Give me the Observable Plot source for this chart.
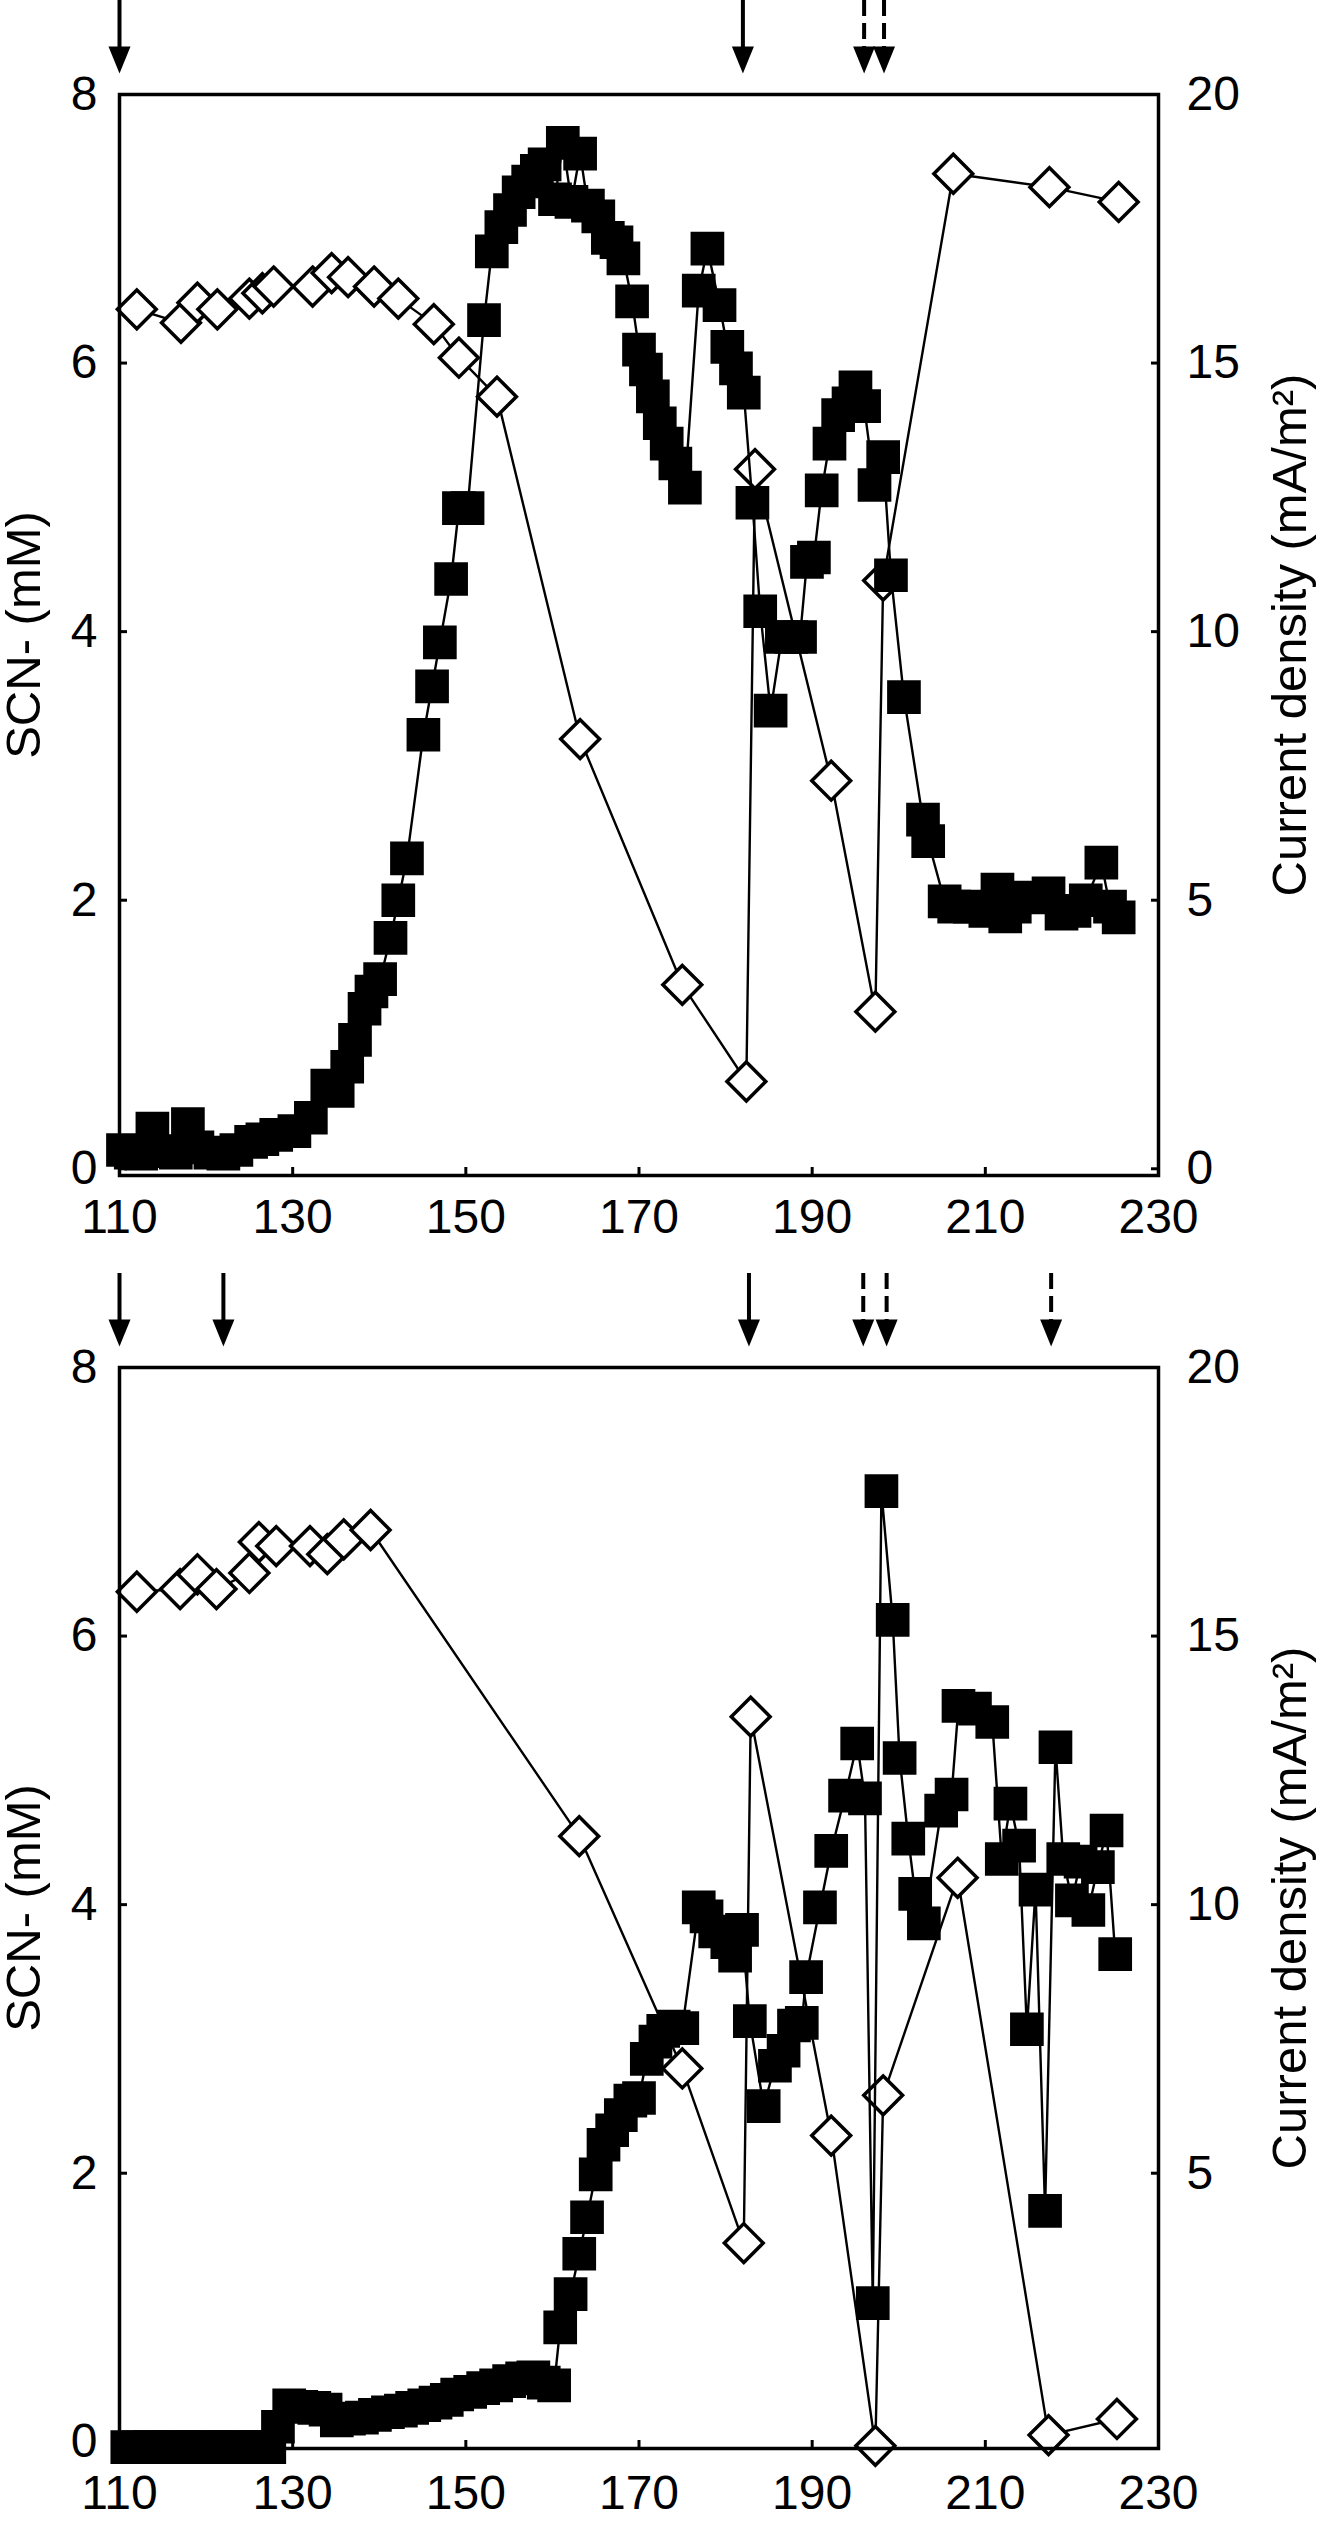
<!DOCTYPE html>
<html>
<head>
<meta charset="utf-8">
<script src="https://cdn.jsdelivr.net/npm/d3@7"></script>
<script src="https://cdn.jsdelivr.net/npm/@observablehq/plot@0.6"></script>
<style>
  html, body { margin: 0; padding: 0; background: #fff; }
  #charts svg { display: block; }
</style>
</head>
<body>
<div id="charts"></div>
<script>
// ---------- shared axis values ----------
const xTicks = [110, 130, 150, 170, 190, 210, 230];
const scnTicks = [0, 2, 4, 6, 8];
const topCdTicks = [0, 5, 10, 15, 20];
const bottomCdTicks = [5, 10, 15, 20];
const scnLabel = "SCN- (mM)";
const cdLabel = "Current density (mA/m²)";

// ---------- top panel ----------
const topScnDay = [112.0,117.1,119.0,121.3,125.0,126.5,127.8,132.3,134.5,136.4,139.4,142.2,146.3,149.2,153.6,163.2,175.0,182.4,183.4,192.2,197.3,198.2,206.3,217.4,225.4];
const topScn    = [6.40,6.30,6.45,6.40,6.48,6.52,6.57,6.57,6.67,6.64,6.57,6.48,6.29,6.04,5.75,3.20,1.37,0.65,5.21,2.89,1.17,4.38,7.41,7.31,7.20];

const topCdDay = [110.4,111.3,112.5,113.8,115.0,116.5,117.9,119.0,120.5,122.0,123.5,125.2,126.5,128.1,130.2,132.1,134.0,135.2,136.3,137.2,138.3,139.1,140.1,141.3,142.2,143.2,145.1,146.1,147.0,148.3,149.2,150.2,152.1,153.0,154.1,155.1,156.1,157.2,158.2,159.1,160.3,161.2,162.2,163.2,164.1,165.3,166.4,167.4,168.2,169.2,170.0,170.8,171.6,172.4,173.2,174.2,175.3,176.9,177.9,179.3,180.2,181.2,182.1,183.1,184.0,185.2,186.5,187.6,188.6,189.4,190.2,191.1,192.0,193.0,194.2,195.0,196.0,197.2,198.2,199.1,200.6,202.8,203.4,205.3,206.4,208.2,210.0,211.4,212.3,213.4,215.2,217.3,218.8,220.3,221.6,223.4,224.4,225.4];
const topCd    = [0.35,0.30,0.28,0.75,0.33,0.30,0.83,0.40,0.30,0.28,0.35,0.50,0.55,0.63,0.70,0.95,1.55,1.45,1.90,2.40,2.98,3.30,3.53,4.30,5.00,5.78,8.08,8.98,9.80,10.98,12.30,12.30,15.80,17.08,17.53,17.85,18.18,18.38,18.58,18.70,18.05,19.10,18.00,18.90,17.93,17.73,17.33,17.25,16.95,16.15,15.25,14.88,14.38,13.88,13.50,13.13,12.68,16.35,17.13,16.08,15.30,14.90,14.45,12.40,10.38,8.53,9.90,9.90,9.90,11.30,11.38,12.63,13.50,14.03,14.25,14.55,14.20,12.73,13.25,11.05,8.78,6.50,6.10,4.98,4.88,4.88,4.80,5.20,4.70,4.88,5.05,5.13,4.75,4.80,5.00,5.70,4.88,4.68];

const topSolidArrows  = [110.0, 182.0];
const topDashedArrows = [196.0, 198.3];

// ---------- bottom panel ----------
const bottomScnDay = [112.0,117.0,119.0,121.2,125.0,126.1,128.1,132.0,134.0,135.9,139.0,163.1,175.0,182.1,182.9,192.2,197.3,198.2,206.8,217.3,225.2];
const bottomScn    = [6.33,6.35,6.46,6.35,6.47,6.70,6.67,6.67,6.61,6.72,6.79,4.51,2.78,1.48,5.40,2.28,-0.03,2.58,4.20,0.05,0.17];

const bottomCdDay = [110.9,112.2,113.5,114.8,116.0,117.3,118.5,119.8,121.0,122.3,123.5,124.8,126.0,127.3,128.3,129.6,131.0,132.5,133.8,135.1,136.5,138.0,139.5,141.0,142.5,143.8,145.2,146.5,147.8,149.0,150.5,152.0,153.5,155.0,156.5,157.8,159.0,160.2,160.9,162.1,163.1,164.0,165.0,165.9,166.9,167.9,169.0,170.0,170.9,171.9,172.8,174.0,175.0,176.9,177.8,178.8,180.2,181.1,181.9,182.8,184.4,185.7,186.7,187.9,188.8,189.3,190.9,192.2,193.8,195.2,196.1,197.0,198.0,199.3,200.1,201.1,201.9,202.9,204.9,206.1,206.9,208.8,210.8,211.9,212.9,213.9,214.8,215.8,216.9,218.1,219.0,220.0,221.0,221.9,223.0,224.0,225.0];
const bottomCd    = [-0.1,-0.1,-0.1,-0.1,-0.1,-0.1,-0.1,-0.1,-0.1,-0.1,-0.1,-0.1,-0.1,-0.1,0.28,0.68,0.65,0.63,0.60,0.40,0.43,0.45,0.50,0.55,0.58,0.63,0.68,0.73,0.78,0.88,0.93,1.00,1.05,1.13,1.18,1.20,1.10,1.05,2.13,2.75,3.50,4.18,4.98,5.53,5.80,6.08,6.35,6.40,7.13,7.45,7.65,7.73,7.70,9.95,9.78,9.50,9.30,9.05,9.53,7.83,6.25,7.00,7.28,7.75,7.80,8.65,9.95,11.00,12.03,13.00,11.98,2.58,17.70,15.30,12.73,11.23,10.20,9.65,11.75,12.05,13.70,13.65,13.40,10.85,11.88,11.10,7.68,10.28,4.30,12.93,10.85,10.08,10.80,9.90,10.70,11.38,9.08];

const bottomSolidArrows  = [110.0, 122.0, 182.7];
const bottomDashedArrows = [195.9, 198.6, 217.6];

// ---------- drawing ----------
const CD_PER_SCN = 2.5;          // right axis (mA/m²) = 2.5 × left axis (mM)
const W = 1325, MT = 94, ML = 119, MR = 167, PLOT_H = 1081;
const Y_DOMAIN = [-0.05, 8];
const pxPerUnit = PLOT_H / (Y_DOMAIN[1] - Y_DOMAIN[0]);
const FONT = "'Liberation Sans', Arial, Helvetica, sans-serif";

// filled arrowhead, tip at the dot position
const arrowHead = {
  draw(context) {
    context.moveTo(0, 0);
    context.lineTo(-11, -27);
    context.lineTo(11, -27);
    context.closePath();
  }
};

function panel({scnDay, scn, cdDay, cd, solid, dashed, cdTicks, height, marginBottom, xPad}) {
  const scnData = scnDay.map((d, i) => ({day: d, v: scn[i]}));
  const cdData = cdDay.map((d, i) => ({day: d, v: cd[i] / CD_PER_SCN}));
  const tipY = Y_DOMAIN[1] + 21 / pxPerUnit;       // arrow tip, just above the frame
  const shaftEnd = Y_DOMAIN[1] + 36 / pxPerUnit;   // shaft ends inside the head
  const topY = Y_DOMAIN[1] + MT / pxPerUnit;       // top edge of the svg
  const arrowsAll = solid.concat(dashed);
  return Plot.plot({
    width: W,
    height,
    marginTop: MT,
    marginLeft: ML,
    marginRight: MR,
    marginBottom,
    style: {fontFamily: FONT, fontSize: "48px", color: "black", background: "white", overflow: "visible"},
    x: {domain: [110, 230]},
    y: {domain: Y_DOMAIN},
    marks: [
      Plot.line(scnData, {x: "day", y: "v", stroke: "black", strokeWidth: 2.4}),
      Plot.dot(scnData, {x: "day", y: "v", symbol: "diamond2", r: 17.5, fill: "white", stroke: "black", strokeWidth: 3.5}),
      Plot.line(cdData, {x: "day", y: "v", stroke: "black", strokeWidth: 2.4}),
      Plot.dot(cdData, {x: "day", y: "v", symbol: "square", r: 19, fill: "black", stroke: "none"}),
      Plot.frame({stroke: "black", strokeWidth: 3.5}),
      Plot.axisX({ticks: xTicks, tickSize: -8, tickPadding: xPad, strokeWidth: 3, fontSize: 48, label: null, tickFormat: d => String(d)}),
      Plot.axisY({anchor: "left", ticks: scnTicks, tickSize: -8, tickPadding: 30, strokeWidth: 3, fontSize: 48, label: null}),
      Plot.axisY({anchor: "right", ticks: cdTicks.map(t => t / CD_PER_SCN), tickFormat: d => String(Math.round(d * CD_PER_SCN)),
                  tickSize: -8, tickPadding: 36, strokeWidth: 3, fontSize: 48, label: null}),
      Plot.text([scnLabel], {text: d => d, frameAnchor: "left", dx: -95, rotate: -90, fontSize: 49, textAnchor: "middle", lineAnchor: "middle"}),
      Plot.text([cdLabel], {text: d => d, frameAnchor: "right", dx: 132, rotate: -90, fontSize: 49, textAnchor: "middle", lineAnchor: "middle"}),
      Plot.ruleX(solid, {x: d => d, y1: topY, y2: shaftEnd, stroke: "black", strokeWidth: 4}),
      Plot.ruleX(dashed, {x: d => d, y1: topY, y2: shaftEnd, stroke: "black", strokeWidth: 4, strokeDasharray: "16,7"}),
      Plot.dot(arrowsAll, {x: d => d, y: tipY, symbol: arrowHead, r: 1, fill: "black", stroke: "none"})
    ]
  });
}

const topChart = panel({
  scnDay: topScnDay, scn: topScn, cdDay: topCdDay, cd: topCd,
  solid: topSolidArrows, dashed: topDashedArrows, cdTicks: topCdTicks,
  height: 1273, marginBottom: 1273 - MT - PLOT_H, xPad: 31
});
const bottomChart = panel({
  scnDay: bottomScnDay, scn: bottomScn, cdDay: bottomCdDay, cd: bottomCd,
  solid: bottomSolidArrows, dashed: bottomDashedArrows, cdTicks: bottomCdTicks,
  height: 1249, marginBottom: 1249 - MT - PLOT_H, xPad: 34
});
document.getElementById("charts").append(topChart, bottomChart);
</script>
</body>
</html>
